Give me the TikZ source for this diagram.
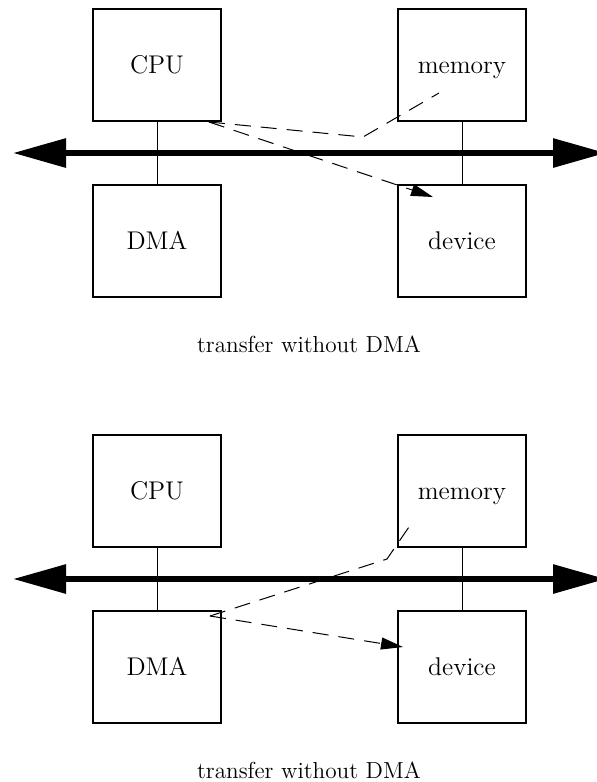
\documentclass[tikz,border=0pt]{standalone}
\usepackage{tikz}
\usetikzlibrary{arrows.meta,positioning}

\begin{document}
\begin{tikzpicture}[
    x=0.5pt, y=-0.5pt,
    box/.style={rectangle, draw, line width=0.6pt, minimum width=64pt, minimum height=56pt, inner sep=0pt, text height=8.6pt, text depth=0pt, font=\fontsize{12.8}{15}\selectfont},
    bus/.style={{Triangle[length=26.5pt, width=14pt]}-{Triangle[length=26.5pt, width=14pt]}, line width=3pt},
    link/.style={line width=0.5pt},
    flow/.style={dash pattern=on 8pt off 5pt, line width=0.5pt},
    flowarrow/.style={flow, -{Triangle[length=11pt, width=6pt]}},
    caption/.style={anchor=base, font=\fontsize{11.6}{14}\selectfont}
]
    \useasboundingbox (0,0) rectangle (596,782);

    % top: transfer through the CPU
    \node[box] (cpu1) at (157,65) {CPU};
    \node[box] (mem1) at (462,65) {memory};
    \node[box] (dma1) at (157,241) {DMA};
    \node[box] (dev1) at (462,241) {device};
    \coordinate (busL1) at (13,153);
    \coordinate (busR1) at (606,153);
    \draw[link] (cpu1) -- (dma1);
    \draw[link] (mem1) -- (dev1);
    \draw[bus] (busL1) -- (busR1);

    \coordinate (src1) at (209,122);
    \coordinate (bend1) at (363,137);
    \coordinate (rd1) at (439,93);
    \coordinate (wr1) at (433,197);
    \draw[flow] (src1) -- (bend1) -- (rd1);
    \draw[flowarrow] (src1) -- (wr1);
    \node[caption] (cap1) at (309,352) {transfer without DMA};

    % bottom: transfer through the DMA
    \node[box] (cpu2) at (157,491) {CPU};
    \node[box] (mem2) at (462,491) {memory};
    \node[box] (dma2) at (157,667) {DMA};
    \node[box] (dev2) at (462,667) {device};
    \coordinate (busL2) at (13,579);
    \coordinate (busR2) at (606,579);
    \draw[link] (cpu2) -- (dma2);
    \draw[link] (mem2) -- (dev2);
    \draw[bus] (busL2) -- (busR2);

    \coordinate (src2) at (210,616);
    \coordinate (bend2) at (387,559);
    \coordinate (rd2) at (411,524);
    \coordinate (wr2) at (403,647);
    \draw[flow] (src2) -- (bend2) -- (rd2);
    \draw[flowarrow] (src2) -- (wr2);
    \node[caption] (cap2) at (309,778) {transfer without DMA};
\end{tikzpicture}
\end{document}
